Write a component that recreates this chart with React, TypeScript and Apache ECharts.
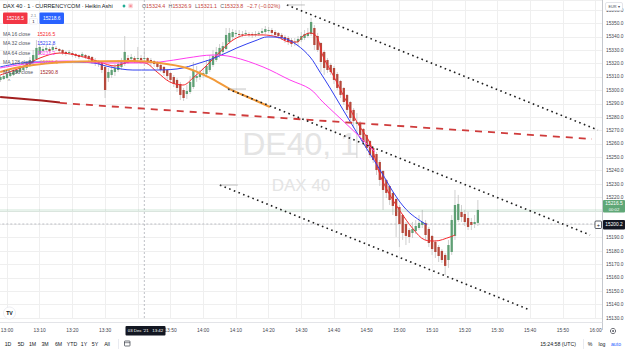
import React, { useEffect, useRef } from "react";
import * as echarts from "echarts";

// ---------- DATA ----------
const FIRST_MINUTE = -2; // minutes after 13:00 of the first Heikin Ashi bar
const haOpen = [
  15307.8, 15308.5, 15309.3, 15310.7, 15311.5, 15313.0, 15313.7, 15315.2, 15316.7, 15318.2,
  15320.5, 15323.4, 15327.2, 15329.4, 15330.2, 15330.9, 15330.2, 15331.7, 15330.9, 15330.2,
  15328.7, 15327.9, 15327.9, 15327.2, 15326.4, 15325.7, 15326.4, 15325.7, 15324.9, 15322.7,
  15321.9, 15320.5, 15317.5, 15309.3, 15311.5, 15313.7, 15315.2, 15317.5, 15319.7, 15324.2,
  15323.4, 15324.2, 15323.4, 15324.2, 15323.4, 15324.2, 15322.7, 15321.9, 15320.5, 15319.0,
  15317.5, 15315.2, 15313.0, 15310.0, 15307.8, 15304.8, 15300.3, 15297.3, 15298.8, 15302.5,
  15309.3, 15310.0, 15311.5, 15312.2, 15315.2, 15319.0, 15322.7, 15325.7, 15328.7, 15330.9,
  15336.1, 15339.9, 15342.1, 15342.1, 15342.1, 15342.1, 15342.1, 15342.1, 15341.4, 15342.1,
  15342.9, 15343.6, 15344.3, 15345.1, 15343.6, 15342.9, 15341.4, 15339.9, 15339.1, 15337.6,
  15336.1, 15336.1, 15337.6, 15339.1, 15340.6, 15342.1, 15346.6, 15340.6, 15335.4, 15328.7,
  15322.7, 15319.0, 15316.7, 15312.2, 15307.0, 15301.8, 15296.6, 15291.3, 15285.4, 15274.9,
  15275.6, 15271.2, 15266.7, 15262.2, 15257.0, 15252.5, 15246.5, 15239.8, 15233.1, 15228.6,
  15223.4, 15218.9, 15212.9, 15206.9, 15200.2, 15195.7, 15193.5, 15195.0, 15197.2, 15199.5,
  15201.0, 15196.5, 15191.3, 15186.8, 15183.0, 15180.1, 15177.1, 15173.3, 15179.3, 15191.3,
  15203.2, 15209.2, 15207.7, 15204.7, 15201.7, 15200.2, 15201.0,
];
const haClose = [
  15310.0, 15310.7, 15312.2, 15313.0, 15314.5, 15315.2, 15316.7, 15318.2, 15319.7, 15322.7,
  15326.4, 15331.7, 15332.4, 15330.9, 15331.7, 15329.4, 15332.4, 15330.9, 15329.4, 15327.9,
  15327.2, 15328.7, 15326.4, 15325.7, 15324.9, 15327.2, 15324.9, 15323.4, 15321.2, 15320.5,
  15319.7, 15315.2, 15300.3, 15313.7, 15315.2, 15316.7, 15319.7, 15321.2, 15328.7, 15322.7,
  15324.9, 15321.9, 15324.2, 15322.7, 15324.2, 15321.9, 15320.5, 15319.7, 15317.5, 15315.2,
  15313.0, 15310.7, 15307.8, 15304.8, 15301.8, 15296.6, 15294.3, 15299.5, 15306.3, 15315.2,
  15310.7, 15312.2, 15313.0, 15318.2, 15322.7, 15325.7, 15328.7, 15331.7, 15333.1, 15341.4,
  15342.9, 15343.6, 15342.9, 15341.4, 15341.8, 15342.9, 15341.4, 15341.4, 15342.1, 15342.9,
  15344.3, 15345.8, 15345.1, 15342.9, 15341.4, 15340.6, 15339.1, 15337.6, 15336.1, 15334.6,
  15336.4, 15338.4, 15340.6, 15342.1, 15342.9, 15351.1, 15333.9, 15330.2, 15321.2, 15316.7,
  15315.2, 15313.7, 15307.8, 15301.8, 15296.6, 15291.3, 15285.4, 15279.4, 15277.1, 15276.4,
  15266.7, 15261.5, 15257.0, 15251.7, 15248.0, 15240.5, 15233.1, 15225.6, 15223.4, 15218.1,
  15213.7, 15206.2, 15200.2, 15193.5, 15191.3, 15190.5, 15196.5, 15198.7, 15201.0, 15201.7,
  15192.0, 15186.0, 15181.5, 15179.3, 15176.3, 15173.3, 15168.9, 15184.5, 15203.2, 15214.4,
  15215.2, 15205.4, 15201.7, 15198.0, 15199.5, 15201.7, 15210.7,
];
const haLow = [
  15306.3, 15307.8, 15308.5, 15310.0, 15310.7, 15312.2, 15313.0, 15314.5, 15315.2, 15317.5,
  15319.7, 15322.7, 15326.4, 15327.9, 15328.7, 15327.9, 15328.7, 15329.4, 15327.9, 15326.4,
  15325.7, 15326.4, 15324.9, 15324.2, 15323.4, 15324.2, 15323.4, 15321.9, 15319.7, 15318.2,
  15317.5, 15313.0, 15294.3, 15306.3, 15309.3, 15310.7, 15313.7, 15315.2, 15318.2, 15319.7,
  15321.2, 15320.5, 15320.5, 15319.7, 15321.2, 15319.7, 15318.2, 15317.5, 15316.0, 15313.7,
  15310.7, 15307.8, 15305.5, 15302.5, 15298.8, 15292.8, 15292.1, 15293.6, 15297.3, 15301.0,
  15306.3, 15307.8, 15309.3, 15310.7, 15313.7, 15317.5, 15321.2, 15324.2, 15327.2, 15330.2,
  15334.6, 15337.6, 15339.9, 15339.1, 15339.9, 15340.6, 15339.9, 15339.1, 15339.9, 15340.6,
  15341.4, 15342.1, 15342.9, 15341.4, 15339.9, 15338.4, 15337.6, 15335.4, 15333.9, 15332.4,
  15333.1, 15333.1, 15336.1, 15337.6, 15339.1, 15340.6, 15330.2, 15328.7, 15313.7, 15311.5,
  15313.0, 15311.5, 15304.8, 15300.3, 15294.3, 15289.1, 15283.1, 15277.1, 15271.9, 15249.5,
  15264.4, 15259.2, 15254.7, 15249.5, 15245.8, 15236.8, 15228.6, 15210.7, 15219.6, 15214.4,
  15206.9, 15190.5, 15183.0, 15188.3, 15184.5, 15186.0, 15189.8, 15192.7, 15195.7, 15197.2,
  15188.3, 15183.0, 15177.1, 15174.8, 15171.8, 15171.1, 15162.1, 15167.4, 15177.1, 15188.3,
  15201.7, 15201.7, 15198.7, 15195.7, 15195.7, 15197.2, 15198.7,
];
const haHigh = [
  15311.5, 15312.2, 15313.7, 15314.5, 15316.0, 15316.7, 15319.0, 15320.5, 15321.2, 15324.9,
  15330.2, 15337.6, 15334.6, 15333.1, 15333.9, 15332.4, 15334.6, 15333.1, 15331.7, 15330.9,
  15329.4, 15330.2, 15329.4, 15327.9, 15327.2, 15328.7, 15327.2, 15326.4, 15325.7, 15324.2,
  15322.7, 15321.2, 15319.0, 15316.7, 15318.2, 15319.7, 15322.7, 15324.2, 15340.6, 15326.4,
  15327.2, 15325.7, 15332.4, 15326.4, 15330.2, 15324.9, 15324.2, 15322.7, 15321.9, 15319.7,
  15318.2, 15316.0, 15313.7, 15311.5, 15309.3, 15306.3, 15301.8, 15304.0, 15310.7, 15321.2,
  15318.2, 15315.2, 15316.7, 15322.7, 15326.4, 15330.2, 15332.4, 15334.6, 15336.1, 15346.6,
  15346.6, 15345.8, 15345.1, 15345.1, 15344.3, 15345.1, 15343.6, 15343.6, 15344.3, 15344.3,
  15346.6, 15348.1, 15347.3, 15346.6, 15345.1, 15343.6, 15342.9, 15341.4, 15340.6, 15339.1,
  15339.1, 15340.6, 15343.6, 15345.1, 15346.6, 15354.1, 15348.8, 15342.9, 15336.1, 15330.2,
  15324.2, 15320.5, 15318.2, 15313.7, 15307.8, 15302.5, 15297.3, 15292.1, 15286.8, 15283.1,
  15277.1, 15271.9, 15267.4, 15263.0, 15257.7, 15254.0, 15248.0, 15240.5, 15233.8, 15229.3,
  15224.1, 15219.6, 15214.4, 15207.7, 15201.7, 15197.2, 15201.7, 15203.2, 15206.9, 15210.7,
  15203.2, 15198.0, 15192.0, 15188.3, 15184.5, 15181.5, 15178.6, 15188.3, 15206.9, 15225.6,
  15221.9, 15214.4, 15210.7, 15209.2, 15204.7, 15206.9, 15218.1,
];

// Moving averages (displaced), read as [minute after 13:00] / [price]
const ma16Times = [-2.1, 4.0, 10.1, 16.2, 22.3, 28.4, 33.0, 37.6, 42.2, 45.9, 49.8, 53.8, 56.9, 61.2, 65.1, 69.1, 73.4, 78.3, 82.6, 86.5, 88.7, 90.5, 92.7, 94.8, 96.6, 99.7, 102.8, 107.0, 111.0, 114.1, 117.1, 120.2, 124.2, 127.8, 130.9, 135.5, 137.0];
const ma16Values = [15311.5, 15316.7, 15324.2, 15327.9, 15325.7, 15321.2, 15318.2, 15321.2, 15320.5, 15313.7, 15306.3, 15304.0, 15309.3, 15319.0, 15328.7, 15337.6, 15341.4, 15341.4, 15339.9, 15336.1, 15336.1, 15340.6, 15342.9, 15339.9, 15325.7, 15311.5, 15296.6, 15276.4, 15260.7, 15236.8, 15221.9, 15209.9, 15196.5, 15188.3, 15187.5, 15190.5, 15192.0];
const ma32Times = [-2.1, 8.0, 18.3, 26.3, 31.5, 38.5, 43.7, 52.0, 59.0, 64.2, 70.3, 76.5, 79.5, 84.4, 88.7, 92.7, 95.7, 98.8, 102.8, 108.0, 114.1, 119.3, 123.2, 128.4];
const ma32Values = [15317.5, 15321.2, 15321.2, 15320.5, 15317.5, 15315.2, 15315.2, 15316.0, 15320.5, 15324.9, 15331.7, 15337.6, 15339.9, 15339.1, 15333.9, 15324.9, 15313.7, 15301.8, 15285.4, 15264.4, 15240.5, 15219.6, 15208.4, 15199.5];
const ma64Times = [-2.1, 8.0, 18.3, 28.4, 38.5, 46.8, 55.0, 63.0, 69.1, 78.3, 86.5, 92.7, 96.6, 102.8, 107.0, 112.5];
const ma64Values = [15316.7, 15320.5, 15321.9, 15320.5, 15320.5, 15321.2, 15324.2, 15326.4, 15324.9, 15317.5, 15307.8, 15301.0, 15291.3, 15277.1, 15267.4, 15254.0];
const ma128Times = [-2.1, 4.0, 18.3, 38.5, 46.8, 55.0, 62.1, 68.2, 74.3, 80.4];
const ma128Values = [15313.7, 15317.5, 15321.2, 15321.9, 15320.5, 15316.7, 15309.3, 15301.0, 15294.3, 15287.6];
const ma256Times = [-2.1, 7.0, 16.2];
const ma256Values = [15295.1, 15293.2, 15291.0];

// Drawn trend lines: [minute, price] end points
const dashedTrend = [[16.2, 15290.6], [178.9, 15263.7]];
const dottedTop = [[85.6, 15363.8], [180.7, 15270.4]];
const dottedMid = [[67.6, 15301.0], [178.3, 15192.0]];
const dottedLow = [[65.1, 15229.3], [159.9, 15136.0]];
const angleMarks = [
  { t: 91.7, p: 15363.8, text: "−22°" },
  { t: 74.3, p: 15301.0, text: "−22°" },
  { t: 72.2, p: 15229.3, text: "−22°" },
  { t: 14.7, p: 15292.1, text: "−4°" },
];
const angleBases = [
  [[85.6, 15363.8], [91.1, 15363.8]],
  [[67.6, 15301.0], [73.1, 15301.0]],
  [[65.1, 15229.3], [70.6, 15229.3]],
];

const crosshairMinute = 42;
const crosshairPrice = 15200.2;
const bidLinePrice = 15210.3;
const hiddenTimeTicks = [40]; // covered by the crosshair time label
const hiddenPriceTicks = [15200, 15210]; // covered by the price labels

const TITLE = "DAX 40 · 1 · CURRENCYCOM · Heikin Ashi";
const ohlcLabels = ["O", "H", "L", "C"];
const ohlcValues = ["15324.4", "15326.9", "15321.1", "15323.8"];
const ohlcChange = "−2.7 (−0.02%)";
const sellPrice = "15216.5";
const buyPrice = "15218.6";
const spread = "2.1";
const quantity = "1";
const maNames = ["MA 16 close", "MA 32 close", "MA 64 close", "MA 128 close", "MA 256 close"];
const maLegendValues = ["15216.5", "15212.8", "15232.2", "15220.6", "15290.8"];
const maColors = ["#f5282d", "#3140f0", "#ff3cef", "#f29a3a", "#a31f1f"];
const lastPriceLabel = "15216.5";
const countdown = "00:02";
const crosshairPriceLabel = "15200.2";
const crosshairTimeLabel = "03 Dec '21   13:42";
const clockLabel = "15:24:58 (UTC)";
const rangeButtons = ["1D", "5D", "1M", "3M", "6M", "YTD", "1Y", "5Y", "All"];

// ---------- STYLE ----------
const FONT = "'Liberation Sans', Arial, sans-serif";
const UP = "#5f9f74";
const DOWN = "#b5483b";
const WICK = "#c3c3c3";
const GRIDC = "#efefef";

function fmtTime(v: number) {
  const m0 = Math.round(v);
  if (hiddenTimeTicks.indexOf(m0) >= 0) return "";
  const total = 13 * 60 + m0;
  const h = Math.floor(total / 60);
  const m = total % 60;
  return `${h}:${m < 10 ? "0" + m : m}`;
}

function fmtPrice(v: number) {
  if (hiddenPriceTicks.indexOf(Math.round(v)) >= 0) return "";
  return v.toFixed(1);
}

function zipLine(times: number[], values: number[]) {
  return times.map((t, i) => [t, values[i]]);
}

export default function App() {
  const ref = useRef<HTMLDivElement>(null);
  useEffect(() => {
    document.body.style.margin = "0";
    const chart = echarts.init(ref.current!, null, { renderer: "svg" });

    const candles = haOpen.map((o, i) => [FIRST_MINUTE + i, o, haClose[i], haLow[i], haHigh[i]]);

    const maSeries = [
      [ma16Times, ma16Values, 1],
      [ma32Times, ma32Values, 1],
      [ma64Times, ma64Values, 1],
      [ma128Times, ma128Values, 2],
      [ma256Times, ma256Values, 2],
    ].map(([ts, vs, w]: any, i) => ({
      type: "line",
      data: zipLine(ts, vs),
      smooth: 0.35,
      showSymbol: false,
      silent: true,
      z: 3,
      lineStyle: { color: maColors[i], width: w },
    }));

    const trend = (data: number[][], color: string, type: any, width: number) => ({
      type: "line",
      data,
      showSymbol: false,
      silent: true,
      z: 4,
      lineStyle: { color, type, width, cap: "butt" },
    });

    const xl = (x: number, y: number, text: string, size: number, fill: string, align = "left", extra: any = {}) => ({
      type: "text",
      x,
      y,
      z: 100,
      silent: true,
      style: { text, fill, fontSize: size, fontFamily: FONT, align, verticalAlign: "middle", ...extra },
    });

    const rich = (size: number) => ({
      k: { fill: "#5d606b", fontSize: size, fontFamily: FONT },
      v: { fill: "#c5443b", fontSize: size, fontFamily: FONT },
    });

    const ohlcText =
      ohlcLabels.map((l, i) => `{k|${l}}{v|${ohlcValues[i]}}`).join(" ") + ` {v|${ohlcChange}}`;

    const legendGraphics: any[] = maNames.map((n, i) => ({
      type: "text",
      x: 3,
      y: 34 + i * 9.4,
      z: 100,
      silent: true,
      style: {
        text: `{l|${n}}  {v|${maLegendValues[i]}}`,
        verticalAlign: "middle",
        rich: {
          l: { fill: "#50535e", fontSize: 5, fontFamily: FONT },
          v: { fill: maColors[i], fontSize: 5, fontFamily: FONT },
        },
      },
    }));

    const rangeX = [8, 21, 32.5, 45, 58.5, 72, 84, 95, 107];

    const option: any = {
      animation: false,
      backgroundColor: "#ffffff",
      textStyle: { fontFamily: FONT },
      grid: {
        left: -25.7,
        top: 0,
        width: 627.7,
        height: 318,
        containLabel: false,
        outerBoundsMode: "none",
      },
      xAxis: {
        type: "value",
        min: -10,
        max: 181.96,
        interval: 10,
        axisLine: { show: false },
        axisTick: { show: false },
        splitLine: { show: true, lineStyle: { color: GRIDC, width: 1 } },
        axisLabel: {
          margin: 10,
          fontSize: 4.9,
          color: "#43464f",
          formatter: fmtTime,
          showMaxLabel: false,
          showMinLabel: false,
          hideOverlap: false,
        },
      },
      yAxis: {
        type: "value",
        position: "right",
        min: 15130,
        max: 15367.5,
        interval: 10,
        axisLine: { show: false },
        axisTick: { show: false },
        splitLine: { show: true, lineStyle: { color: GRIDC, width: 1 } },
        axisLabel: {
          margin: 4,
          fontSize: 4.8,
          color: "#43464f",
          formatter: fmtPrice,
          showMaxLabel: false,
        },
      },
      series: [
        trend([[-10, bidLinePrice], [181.96, bidLinePrice]], "rgba(95,167,119,0.14)", "solid", 3),
        {
          ...trend([[-10, crosshairPrice], [181.96, crosshairPrice]], "#a3a6af", [2, 2], 0.7),
          z: 1,
        },
        {
          ...trend([[crosshairMinute, 15130], [crosshairMinute, 15367.5]], "#a3a6af", [2, 2], 0.7),
          z: 1,
        },
        {
          type: "custom",
          z: 2,
          silent: true,
          data: candles,
          encode: { x: 0, y: [1, 2, 3, 4] },
          renderItem: (params: any, api: any) => {
            const t = api.value(0);
            const o = api.value(1);
            const c = api.value(2);
            const l = api.value(3);
            const h = api.value(4);
            const pO = api.coord([t, o]);
            const pC = api.coord([t, c]);
            const pL = api.coord([t, l]);
            const pH = api.coord([t, h]);
            const w = 2.3;
            const top = Math.min(pO[1], pC[1]);
            const bh = Math.max(Math.abs(pO[1] - pC[1]), 0.8);
            return {
              type: "group",
              children: [
                {
                  type: "line",
                  shape: { x1: pO[0], y1: pH[1], x2: pO[0], y2: pL[1] },
                  style: { stroke: WICK, lineWidth: 0.8 },
                },
                {
                  type: "rect",
                  shape: { x: pO[0] - w / 2, y: top, width: w, height: bh },
                  style: { fill: c >= o ? UP : DOWN },
                },
              ],
            };
          },
        },
        ...maSeries,
        trend(dashedTrend, "#cf3b3b", [7, 6], 1.8),
        trend(dottedTop, "#1e1e1e", [1.6, 3.4], 1.6),
        trend(dottedMid, "#1e1e1e", [1.6, 3.4], 1.6),
        trend(dottedLow, "#1e1e1e", [1.6, 3.4], 1.6),
        ...angleBases.map((d) => trend(d, "#9a9a9a", "solid", 0.6)),
        {
          type: "scatter",
          z: 5,
          silent: true,
          symbolSize: 1,
          itemStyle: { opacity: 0 },
          data: angleMarks.map((m) => ({ value: [m.t, m.p], name: m.text })),
          label: {
            show: true,
            position: "right",
            distance: 0,
            formatter: (p: any) => p.name,
            color: "#1f9f7e",
            fontSize: 4.8,
            fontFamily: FONT,
          },
        },
      ],
      graphic: [
        { type: "text", x: 300, y: 144, z: 1, silent: true, style: { text: "DE40, 1", fill: "#e4e4e4", fontSize: 32, fontFamily: FONT, align: "center", verticalAlign: "middle" } },
        { type: "text", x: 301, y: 185, z: 1, silent: true, style: { text: "DAX 40", fill: "#e4e4e4", fontSize: 17, fontFamily: FONT, align: "center", verticalAlign: "middle" } },
        xl(3, 5.5, TITLE, 5.6, "#131722"),
        { type: "circle", z: 100, shape: { cx: 124, cy: 6, r: 1.4 }, style: { fill: "#22ab94" } },
        { type: "rect", z: 100, shape: { x: 128.3, y: 3.6, width: 4.6, height: 4.6, r: 1 }, style: { fill: "#fcd7db" } },
        { type: "line", z: 100, shape: { x1: 129.5, y1: 5.3, x2: 131.7, y2: 5.3 }, style: { stroke: "#f23645", lineWidth: 0.5 } },
        { type: "line", z: 100, shape: { x1: 129.5, y1: 6.6, x2: 131.7, y2: 6.6 }, style: { stroke: "#f23645", lineWidth: 0.5 } },
        {
          type: "text",
          x: 142,
          y: 6,
          z: 100,
          silent: true,
          style: { text: ohlcText, verticalAlign: "middle", rich: rich(5.3) },
        },
        { type: "rect", z: 100, shape: { x: 3, y: 12.5, width: 24.5, height: 11.5, r: 1 }, style: { fill: "#f23645" } },
        xl(15.25, 18.3, sellPrice, 4.9, "#ffffff", "center"),
        { type: "rect", z: 100, shape: { x: 29.5, y: 18.5, width: 8, height: 5.5, r: 0.5 }, style: { fill: "#ffffff", stroke: "#e0e3eb", lineWidth: 0.5 } },
        xl(33.5, 15.3, spread, 3.9, "#787b86", "center"),
        xl(33.5, 21.3, quantity, 4.3, "#131722", "center"),
        { type: "rect", z: 100, shape: { x: 39.5, y: 12.5, width: 24.5, height: 11.5, r: 1 }, style: { fill: "#2962ff" } },
        xl(51.75, 18.3, buyPrice, 4.9, "#ffffff", "center"),
        ...legendGraphics,
        xl(9, 81, "^", 5.5, "#787b86", "center"),
        { type: "line", z: 90, shape: { x1: 602.5, y1: 0, x2: 602.5, y2: 330 }, style: { stroke: "#b9bcc4", lineWidth: 0.8 } },
        { type: "line", z: 90, shape: { x1: 0, y1: 322.5, x2: 602.5, y2: 322.5 }, style: { stroke: "#dcdde2", lineWidth: 0.8 } },
        { type: "rect", z: 100, shape: { x: 605.5, y: 2.5, width: 17, height: 8, r: 1.5 }, style: { fill: "#ffffff", stroke: "#d1d4dc", lineWidth: 0.6 } },
        xl(614, 6.6, "EUR ▾", 3.8, "#4a4d57", "center"),
        { type: "rect", z: 100, shape: { x: 603, y: 200, width: 22, height: 12.5, r: 1 }, style: { fill: "#5fa777" } },
        xl(614, 203.6, lastPriceLabel, 4.8, "#ffffff", "center"),
        xl(614, 209.3, countdown, 4.2, "#ffffff", "center"),
        { type: "rect", z: 100, shape: { x: 603, y: 220, width: 22, height: 9.5, r: 1 }, style: { fill: "#131722" } },
        xl(614, 224.9, crosshairPriceLabel, 4.8, "#ffffff", "center"),
        { type: "rect", z: 100, shape: { x: 595, y: 221, width: 6.5, height: 7.5, r: 1 }, style: { fill: "#ffffff", stroke: "#131722", lineWidth: 0.7 } },
        xl(598.3, 224.9, "+", 5.5, "#131722", "center"),
        { type: "rect", z: 100, shape: { x: 125.5, y: 326, width: 40, height: 9.5, r: 1 }, style: { fill: "#131722" } },
        xl(145.5, 330.9, crosshairTimeLabel, 4.4, "#ffffff", "center"),
        { type: "circle", z: 100, shape: { cx: 613, cy: 331, r: 2.6 }, style: { fill: "none", stroke: "#4a4d57", lineWidth: 0.8 } },
        { type: "circle", z: 100, shape: { cx: 613, cy: 331, r: 0.9 }, style: { fill: "#4a4d57" } },
        { type: "circle", z: 100, shape: { cx: 9.5, cy: 313, r: 6 }, style: { fill: "#ffffff", stroke: "#e0e3eb", lineWidth: 0.6 } },
        xl(9.5, 313.3, "TV", 5.2, "#131722", "center", { fontWeight: "bold" }),
        ...rangeButtons.map((b, i) => xl(rangeX[i], 344, b, 5.2, "#131722", "center")),
        { type: "line", z: 100, shape: { x1: 118.5, y1: 339, x2: 118.5, y2: 349 }, style: { stroke: "#e0e3eb", lineWidth: 0.7 } },
        { type: "rect", z: 100, shape: { x: 124.5, y: 341, width: 5.5, height: 5, r: 0.6 }, style: { fill: "none", stroke: "#131722", lineWidth: 0.6 } },
        { type: "line", z: 100, shape: { x1: 124.5, y1: 342.7, x2: 130, y2: 342.7 }, style: { stroke: "#131722", lineWidth: 0.5 } },
        xl(558, 344, clockLabel, 5.2, "#131722", "center"),
        { type: "line", z: 100, shape: { x1: 583.5, y1: 339, x2: 583.5, y2: 349 }, style: { stroke: "#e0e3eb", lineWidth: 0.7 } },
        xl(590, 344, "%", 5.2, "#131722", "center"),
        xl(602, 344, "log", 5.2, "#131722", "center"),
        xl(616, 344, "auto", 5.2, "#2962ff", "center"),
      ],
    };

    chart.setOption(option);
    return () => chart.dispose();
  }, []);

  return (
    <div
      ref={ref}
      style={{ position: "absolute", left: 0, top: 0, width: 625, height: 352 }}
    />
  );
}
